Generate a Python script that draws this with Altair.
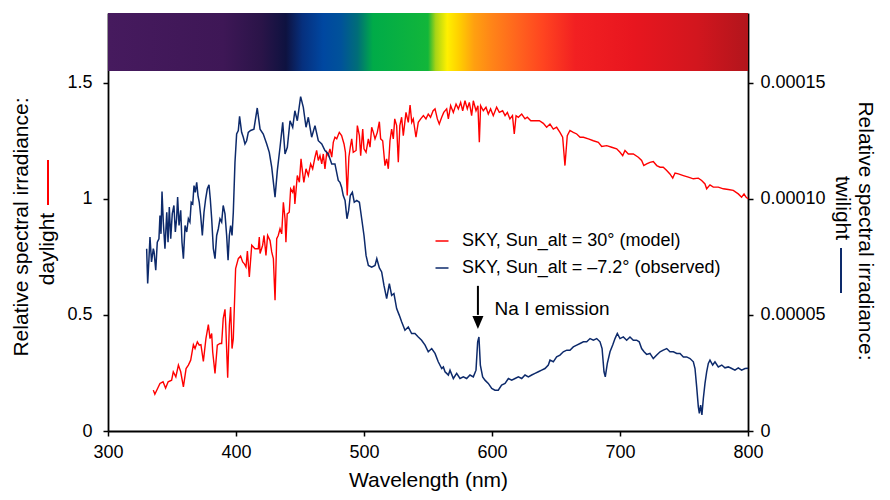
import altair as alt
import pandas as pd

# ---------------- data ----------------
SERIES = ["SKY, Sun_alt = 30° (model)", "SKY, Sun_alt = –7.2° (observed)"]
SERIES_COLORS = ["#ff0000", "#0d2a6b"]

# daylight (model), left axis units
RED_SPECTRUM = [
    (335.4, 0.176), (336.6, 0.158), (340.6, 0.205), (343.0, 0.212), (345.0, 0.185),
    (347.0, 0.212), (349.7, 0.219), (351.0, 0.255), (353.0, 0.233), (355.0, 0.284),
    (356.8, 0.255), (358.9, 0.190), (361.0, 0.269), (362.8, 0.284), (364.6, 0.305),
    (366.7, 0.372), (368.0, 0.355), (369.8, 0.384), (371.3, 0.370), (372.6, 0.372),
    (374.5, 0.300), (376.5, 0.398), (378.4, 0.458), (379.7, 0.398), (381.0, 0.420),
    (381.8, 0.340), (383.6, 0.248), (385.4, 0.370), (387.5, 0.377), (388.8, 0.377),
    (390.0, 0.484), (391.4, 0.524), (392.0, 0.455), (393.5, 0.229), (394.8, 0.455),
    (395.8, 0.534), (396.9, 0.355), (397.9, 0.398), (399.7, 0.699), (401.8, 0.742),
    (403.6, 0.753), (405.2, 0.728), (406.5, 0.720), (407.8, 0.706), (408.9, 0.775),
    (410.4, 0.663), (412.3, 0.800), (414.8, 0.785), (417.4, 0.785), (418.2, 0.835),
    (418.8, 0.764), (420.8, 0.800), (421.9, 0.842), (423.4, 0.756), (424.7, 0.842),
    (426.6, 0.820), (427.9, 0.771), (429.2, 0.742), (430.5, 0.563), (431.8, 0.828),
    (433.0, 0.842), (434.4, 0.871), (435.7, 0.849), (437.0, 0.985), (438.3, 0.914),
    (439.0, 0.813), (440.0, 0.935), (441.6, 0.942), (442.7, 1.043), (444.3, 1.028),
    (445.3, 1.057), (446.0, 0.978), (447.9, 1.100), (449.5, 1.071), (450.8, 1.172),
    (452.0, 1.114), (453.0, 1.071), (454.7, 1.129), (456.5, 1.100), (458.3, 1.150),
    (459.9, 1.129), (461.7, 1.179), (463.0, 1.208), (464.3, 1.165), (465.6, 1.186),
    (467.0, 1.150), (468.2, 1.193), (469.5, 1.129), (470.9, 1.200), (472.0, 1.186),
    (473.4, 1.215), (474.8, 1.179), (476.0, 1.243), (477.3, 1.265), (478.7, 1.258),
    (480.7, 1.286), (482.5, 1.272), (484.4, 1.236), (485.5, 1.200), (486.9, 1.014),
    (488.2, 1.180), (489.3, 1.222), (490.4, 1.258), (491.6, 1.200), (493.8, 1.208),
    (494.8, 1.315), (496.4, 1.272), (497.4, 1.186), (499.0, 1.300), (500.0, 1.215),
    (501.6, 1.200), (503.4, 1.258), (504.7, 1.222), (506.0, 1.308), (507.3, 1.286),
    (508.6, 1.258), (510.4, 1.286), (512.0, 1.332), (513.0, 1.258), (514.6, 1.250),
    (516.4, 1.143), (517.7, 1.172), (519.0, 1.129), (520.3, 1.250), (521.6, 1.300),
    (522.9, 1.258), (524.0, 1.344), (525.5, 1.315), (526.8, 1.157), (528.0, 1.315),
    (529.4, 1.351), (530.7, 1.272), (532.8, 1.372), (534.6, 1.329), (536.0, 1.404),
    (537.3, 1.329), (538.5, 1.344), (540.6, 1.265), (542.4, 1.329), (544.3, 1.344),
    (546.4, 1.358), (548.4, 1.344), (550.2, 1.365), (552.0, 1.351), (554.0, 1.379),
    (555.5, 1.387), (557.3, 1.344), (558.8, 1.322), (560.7, 1.351), (562.3, 1.372),
    (564.6, 1.387), (565.9, 1.344), (567.7, 1.401), (569.8, 1.372), (571.9, 1.408),
    (573.7, 1.387), (575.5, 1.415), (577.1, 1.379), (578.9, 1.422), (580.7, 1.387),
    (582.3, 1.415), (584.1, 1.358), (585.4, 1.422), (587.5, 1.379), (589.0, 1.401),
    (590.1, 1.243), (591.1, 1.401), (593.2, 1.379), (595.3, 1.394), (597.1, 1.365),
    (598.9, 1.387), (601.0, 1.358), (603.6, 1.394), (605.7, 1.372), (608.3, 1.379),
    (610.2, 1.358), (612.0, 1.372), (614.0, 1.344), (616.0, 1.358), (617.4, 1.279),
    (618.8, 1.358), (620.6, 1.351), (623.2, 1.365), (625.8, 1.344), (627.6, 1.351),
    (630.3, 1.336), (633.6, 1.336), (637.0, 1.336), (640.1, 1.325), (642.7, 1.308),
    (645.3, 1.322), (647.9, 1.300), (650.5, 1.308), (653.1, 1.286), (655.2, 1.265),
    (657.0, 1.143), (658.8, 1.272), (660.9, 1.294), (663.5, 1.286), (666.2, 1.279),
    (668.8, 1.265), (671.4, 1.265), (675.3, 1.258), (679.2, 1.250), (683.1, 1.243),
    (685.7, 1.225), (689.6, 1.229), (693.5, 1.222), (697.4, 1.215), (700.0, 1.200),
    (702.1, 1.186), (703.9, 1.208), (706.5, 1.193), (710.4, 1.193), (714.3, 1.179),
    (716.9, 1.165), (718.6, 1.143), (720.8, 1.150), (723.4, 1.157), (726.0, 1.160),
    (728.7, 1.143), (731.3, 1.136), (733.8, 1.136), (736.5, 1.122), (739.0, 1.107),
    (741.2, 1.089), (743.0, 1.111), (745.6, 1.107), (749.5, 1.100), (753.4, 1.093),
    (757.3, 1.086), (761.2, 1.089), (763.8, 1.079), (766.4, 1.064), (767.7, 1.043),
    (770.3, 1.060), (772.9, 1.050), (776.8, 1.050), (780.7, 1.043), (784.6, 1.040),
    (788.5, 1.036), (792.4, 1.021), (795.0, 1.007), (796.9, 1.021), (798.4, 1.007),
    (800.0, 1.000),
]

# twilight (observed), right axis units
BLUE_SPECTRUM = [
    (330.2, 7.85e-5), (331.0, 6.35e-5), (332.0, 7.42e-5), (332.8, 8.35e-5), (334.0, 7.28e-5),
    (335.4, 7.85e-5), (336.0, 7.71e-5), (337.3, 6.92e-5), (338.5, 8.13e-5), (339.8, 8.28e-5),
    (340.6, 9.28e-5), (341.4, 8.49e-5), (342.2, 10.31e-5), (343.2, 9.00e-5), (344.5, 7.85e-5),
    (345.9, 9.42e-5), (346.9, 8.13e-5), (347.9, 9.64e-5), (349.0, 8.28e-5), (350.2, 9.35e-5),
    (351.5, 9.71e-5), (352.6, 8.57e-5), (353.6, 9.14e-5), (354.4, 10.07e-5), (355.5, 8.85e-5),
    (356.8, 9.50e-5), (357.8, 8.13e-5), (358.9, 7.42e-5), (360.2, 8.85e-5), (361.5, 8.57e-5),
    (362.8, 9.14e-5), (364.0, 9.00e-5), (365.0, 9.85e-5), (366.2, 9.78e-5), (367.2, 10.57e-5),
    (368.2, 10.28e-5), (369.3, 10.71e-5), (370.3, 10.14e-5), (371.3, 9.85e-5), (372.4, 9.28e-5),
    (373.7, 8.42e-5), (375.0, 9.42e-5), (376.3, 10.00e-5), (377.6, 10.43e-5), (378.9, 10.60e-5),
    (379.9, 10.00e-5), (381.0, 9.14e-5), (382.3, 7.85e-5), (383.6, 7.42e-5), (384.9, 8.42e-5),
    (386.2, 8.71e-5), (387.5, 9.14e-5), (388.8, 9.00e-5), (390.0, 9.71e-5), (391.4, 9.35e-5),
    (392.7, 8.42e-5), (393.8, 7.35e-5), (394.8, 8.42e-5), (395.8, 8.85e-5), (396.9, 8.42e-5),
    (397.9, 9.42e-5), (399.2, 11.57e-5), (400.5, 12.79e-5), (401.8, 12.94e-5), (402.8, 13.55e-5),
    (404.4, 12.86e-5), (405.7, 12.65e-5), (407.0, 12.36e-5), (408.3, 12.50e-5), (409.6, 12.86e-5),
    (411.4, 12.94e-5), (414.0, 13.00e-5), (416.6, 13.91e-5), (418.8, 13.00e-5), (421.3, 12.79e-5),
    (424.0, 12.36e-5), (426.0, 12.00e-5), (427.9, 11.36e-5), (430.5, 10.07e-5), (432.3, 11.22e-5),
    (434.4, 12.22e-5), (436.5, 13.29e-5), (438.3, 11.93e-5), (440.1, 12.22e-5), (442.2, 13.36e-5),
    (444.3, 13.08e-5), (446.0, 13.79e-5), (447.9, 13.36e-5), (450.5, 14.40e-5), (452.6, 13.94e-5),
    (454.7, 13.08e-5), (456.5, 13.51e-5), (459.1, 12.65e-5), (461.7, 13.15e-5), (464.3, 12.50e-5),
    (467.0, 12.36e-5), (469.5, 12.08e-5), (472.1, 11.93e-5), (474.8, 11.50e-5), (477.3, 11.50e-5),
    (479.9, 10.79e-5), (481.2, 10.71e-5), (482.5, 10.50e-5), (483.8, 10.14e-5), (485.2, 9.93e-5),
    (486.7, 9.14e-5), (488.0, 9.50e-5), (489.3, 10.14e-5), (490.9, 10.28e-5), (492.4, 9.85e-5),
    (494.3, 9.93e-5), (496.4, 9.85e-5), (498.2, 9.14e-5), (500.0, 8.42e-5), (501.6, 7.56e-5),
    (503.4, 7.13e-5), (506.0, 7.06e-5), (508.6, 7.13e-5), (510.0, 7.42e-5), (512.0, 7.02e-5),
    (513.8, 6.85e-5), (515.6, 6.27e-5), (517.7, 5.70e-5), (519.8, 6.35e-5), (521.6, 5.84e-5),
    (523.4, 5.92e-5), (525.5, 5.27e-5), (527.6, 4.98e-5), (529.4, 4.70e-5), (532.0, 4.34e-5),
    (534.6, 4.48e-5), (537.2, 4.20e-5), (539.8, 4.20e-5), (542.4, 4.05e-5), (545.0, 3.91e-5),
    (547.7, 3.70e-5), (550.2, 3.41e-5), (552.9, 3.55e-5), (555.5, 3.34e-5), (558.0, 2.98e-5),
    (560.7, 2.69e-5), (562.0, 2.76e-5), (563.3, 2.55e-5), (564.6, 2.48e-5), (565.9, 2.41e-5),
    (567.2, 2.62e-5), (569.8, 2.26e-5), (572.4, 2.48e-5), (575.0, 2.26e-5), (577.6, 2.33e-5),
    (580.2, 2.26e-5), (582.8, 2.41e-5), (585.4, 2.33e-5), (587.5, 2.62e-5), (588.8, 3.84e-5),
    (589.8, 4.05e-5), (590.9, 2.84e-5), (592.7, 2.33e-5), (594.5, 2.19e-5), (597.1, 2.05e-5),
    (599.8, 1.83e-5), (602.3, 1.76e-5), (604.9, 1.76e-5), (607.5, 1.98e-5), (610.2, 2.05e-5),
    (612.8, 2.26e-5), (615.4, 2.19e-5), (618.0, 2.26e-5), (620.6, 2.33e-5), (623.2, 2.26e-5),
    (625.8, 2.41e-5), (628.4, 2.33e-5), (631.0, 2.41e-5), (633.6, 2.48e-5), (636.2, 2.55e-5),
    (638.8, 2.62e-5), (641.4, 2.69e-5), (644.0, 2.84e-5), (645.3, 3.05e-5), (647.9, 2.98e-5),
    (650.5, 3.19e-5), (653.1, 3.27e-5), (655.7, 3.41e-5), (658.4, 3.48e-5), (660.9, 3.48e-5),
    (663.5, 3.62e-5), (666.2, 3.70e-5), (668.8, 3.77e-5), (671.4, 3.84e-5), (674.0, 3.84e-5),
    (676.6, 3.98e-5), (679.2, 3.91e-5), (681.8, 3.98e-5), (684.4, 3.84e-5), (686.0, 3.55e-5),
    (687.5, 2.55e-5), (688.5, 2.33e-5), (690.1, 2.91e-5), (692.2, 3.41e-5), (694.3, 3.70e-5),
    (696.1, 3.98e-5), (697.9, 4.20e-5), (700.0, 3.98e-5), (702.6, 4.05e-5), (705.2, 3.91e-5),
    (707.8, 4.05e-5), (710.4, 3.91e-5), (713.0, 3.91e-5), (715.0, 3.84e-5), (716.9, 3.55e-5),
    (718.8, 3.41e-5), (720.8, 3.30e-5), (723.4, 3.34e-5), (726.0, 3.12e-5), (728.7, 3.27e-5),
    (731.3, 3.41e-5), (733.8, 3.48e-5), (736.5, 3.55e-5), (739.0, 3.41e-5), (741.7, 3.41e-5),
    (744.3, 3.34e-5), (746.9, 3.34e-5), (749.5, 3.19e-5), (752.1, 3.19e-5), (754.7, 3.12e-5),
    (757.3, 2.98e-5), (758.6, 2.69e-5), (759.9, 1.90e-5), (761.2, 1.04e-5), (762.0, 0.76e-5),
    (763.0, 1.12e-5), (764.0, 0.69e-5), (765.1, 1.40e-5), (766.4, 2.05e-5), (767.7, 2.55e-5),
    (769.0, 2.91e-5), (770.3, 3.05e-5), (772.4, 2.84e-5), (774.2, 2.98e-5), (776.8, 2.76e-5),
    (779.5, 2.84e-5), (782.0, 2.72e-5), (784.6, 2.76e-5), (787.3, 2.69e-5), (789.8, 2.62e-5),
    (792.4, 2.72e-5), (795.0, 2.62e-5), (797.7, 2.69e-5), (800.0, 2.70e-5),
]

X_TICKS = [300, 400, 500, 600, 700, 800]
YL_TICKS = [0, 0.5, 1, 1.5]
YR_TICKS = [0, 0.00005, 0.0001, 0.00015]

# visible-spectrum colour bar (wavelength -> colour)
SPECTRUM_NM = [300, 390, 420, 439, 452, 468, 482, 495, 507, 550, 556, 565, 574, 586,
               600, 620, 640, 665, 710, 760, 800]
SPECTRUM_COLORS = ["#461a5e", "#3e1756", "#2a1448", "#0e1240", "#06307e", "#0047a0",
                   "#00529a", "#006e78", "#00ab48", "#12b63a", "#a8d416", "#fff000",
                   "#ffd000", "#ffa010", "#ff8418", "#ff641e", "#ff4420", "#f22022",
                   "#e8161f", "#d2161e", "#b2151c"]
BAR_RANGE_NM = [300, 800]
BAR_RANGE_Y = [1.55, 1.8]

# Na I annotation
NA_NM = 589
NA_ARROW_Y = [0.625, 0.50]
NA_HEAD_Y = 0.467
NA_LABEL = "Na I emission"
NA_LABEL_NM = 602
NA_LABEL_Y = 0.525

FONT = "Liberation Sans"

# ---------------- chart ----------------
red_df = pd.DataFrame(RED_SPECTRUM, columns=["nm", "value"])
red_df["series"] = SERIES[0]
blue_df = pd.DataFrame(BLUE_SPECTRUM, columns=["nm", "value"])
blue_df["series"] = SERIES[1]

x_scale = alt.Scale(domain=[300, 800], nice=False, zero=False, padding=0)
yl_scale = alt.Scale(domain=[0, 1.8], nice=False, padding=0)
yr_scale = alt.Scale(domain=[0, 0.00018], nice=False, padding=0)

x_axis = alt.Axis(values=X_TICKS, title="Wavelength (nm)", titleFontSize=21,
                  titlePadding=8, labelPadding=7, labelFlush=False)
yl_axis = alt.Axis(values=YL_TICKS, format="~g", title=None, labelPadding=11,
                   labelFlush=False)
yr_axis = alt.Axis(values=YR_TICKS, orient="right", title=None, labelPadding=7,
                   labelFlush=False,
                   labelExpr="datum.value == 0 ? '0' : format(datum.value, '.5f')")

color_enc = alt.Color(
    "series:N",
    scale=alt.Scale(domain=SERIES, range=SERIES_COLORS),
    legend=alt.Legend(title=None, orient="none", legendX=325, legendY=219,
                      symbolType="stroke", symbolSize=169, symbolStrokeWidth=1.5,
                      labelFontSize=18, labelFont=FONT, labelColor="black",
                      labelOffset=11, rowPadding=9, padding=0, labelLimit=400),
)

grad = alt.Gradient(
    gradient="linear",
    stops=[alt.GradientStop(offset=(nm - 300) / 500, color=c)
           for nm, c in zip(SPECTRUM_NM, SPECTRUM_COLORS)],
    x1=0, x2=1, y1=0, y2=0,
)
bar_df = pd.DataFrame({"x0": [BAR_RANGE_NM[0]], "x1": [BAR_RANGE_NM[1]],
                       "y0": [BAR_RANGE_Y[0]], "y1": [BAR_RANGE_Y[1]]})
bar = alt.Chart(bar_df).mark_rect(fill=grad, strokeWidth=0).encode(
    x=alt.X("x0:Q", scale=x_scale, axis=x_axis), x2="x1:Q",
    y=alt.Y("y0:Q", scale=yl_scale, axis=yl_axis), y2="y1:Q",
)

red_line = alt.Chart(red_df).mark_line(strokeWidth=1.4).encode(
    x=alt.X("nm:Q", scale=x_scale, axis=x_axis),
    y=alt.Y("value:Q", scale=yl_scale, axis=yl_axis),
    color=color_enc,
    order="nm:Q",
)

arrow_df = pd.DataFrame({"nm": [NA_NM], "y0": [NA_ARROW_Y[0]], "y1": [NA_ARROW_Y[1]],
                         "yh": [NA_HEAD_Y]})
arrow = alt.Chart(arrow_df).mark_rule(color="black", strokeWidth=2).encode(
    x=alt.X("nm:Q", scale=x_scale, axis=x_axis),
    y=alt.Y("y0:Q", scale=yl_scale, axis=yl_axis), y2="y1:Q",
)
head = alt.Chart(arrow_df).mark_point(
    shape="M -0.85 -1 L 0.85 -1 L 0 1 Z", filled=True, color="black", size=169, opacity=1
).encode(
    x=alt.X("nm:Q", scale=x_scale, axis=x_axis),
    y=alt.Y("yh:Q", scale=yl_scale, axis=yl_axis),
)
na_df = pd.DataFrame({"nm": [NA_LABEL_NM], "y": [NA_LABEL_Y], "t": [NA_LABEL]})
na_text = alt.Chart(na_df).mark_text(
    align="left", baseline="middle", fontSize=19, font=FONT, color="black"
).encode(
    x=alt.X("nm:Q", scale=x_scale, axis=x_axis),
    y=alt.Y("y:Q", scale=yl_scale, axis=yl_axis),
    text="t:N",
)


def label(text, x, y, angle, color="black"):
    df = pd.DataFrame({"t": [text]})
    return alt.Chart(df).mark_text(
        angle=angle, align="center", baseline="middle", fontSize=21, font=FONT, color=color
    ).encode(x=alt.value(x), y=alt.value(y), text="t:N")


def dash(x, y0, y1, color):
    df = pd.DataFrame({"t": [""]})
    return alt.Chart(df).mark_rule(color=color, strokeWidth=2).encode(
        x=alt.value(x), y=alt.value(y0), y2=alt.value(y1)
    )


left_title1 = label("Relative spectral irradiance:", -86, 214, 270)
left_title2 = label("daylight", -60, 236, 270)
left_dash = dash(-60, 147, 192, SERIES_COLORS[0])

right_title1 = label("Relative spectral irradiance:", 757, 218, 90)
right_title2 = label("twilight", 734, 195, 90)
right_dash = dash(733, 235, 280, SERIES_COLORS[1])

blue_line = alt.Chart(blue_df).mark_line(strokeWidth=1.5).encode(
    x=alt.X("nm:Q", scale=x_scale, axis=x_axis),
    y=alt.Y("value:Q", scale=yr_scale, axis=yr_axis),
    color=color_enc,
    order="nm:Q",
)

left = alt.layer(bar, red_line, arrow, head, na_text,
                 left_title1, left_title2, left_dash)
right = alt.layer(blue_line, right_title1, right_title2, right_dash)

chart = (
    alt.layer(left, right)
    .resolve_scale(y="independent")
    .properties(
        width=640, height=418,
        padding={"left": 100, "top": 5, "right": 133, "bottom": 60},
        autosize=alt.AutoSizeParams(type="none"),
    )
    .configure_view(strokeWidth=0)
    .configure_axis(
        grid=False, domainColor="black", domainWidth=1.8, tickColor="black",
        tickWidth=1.5, tickSize=5, labelFont=FONT, labelFontSize=18,
        labelColor="black", titleFont=FONT, titleColor="black",
        titleFontWeight="normal",
    )
)

chart.save("out.html", embed_options={"renderer": "svg", "actions": False})
